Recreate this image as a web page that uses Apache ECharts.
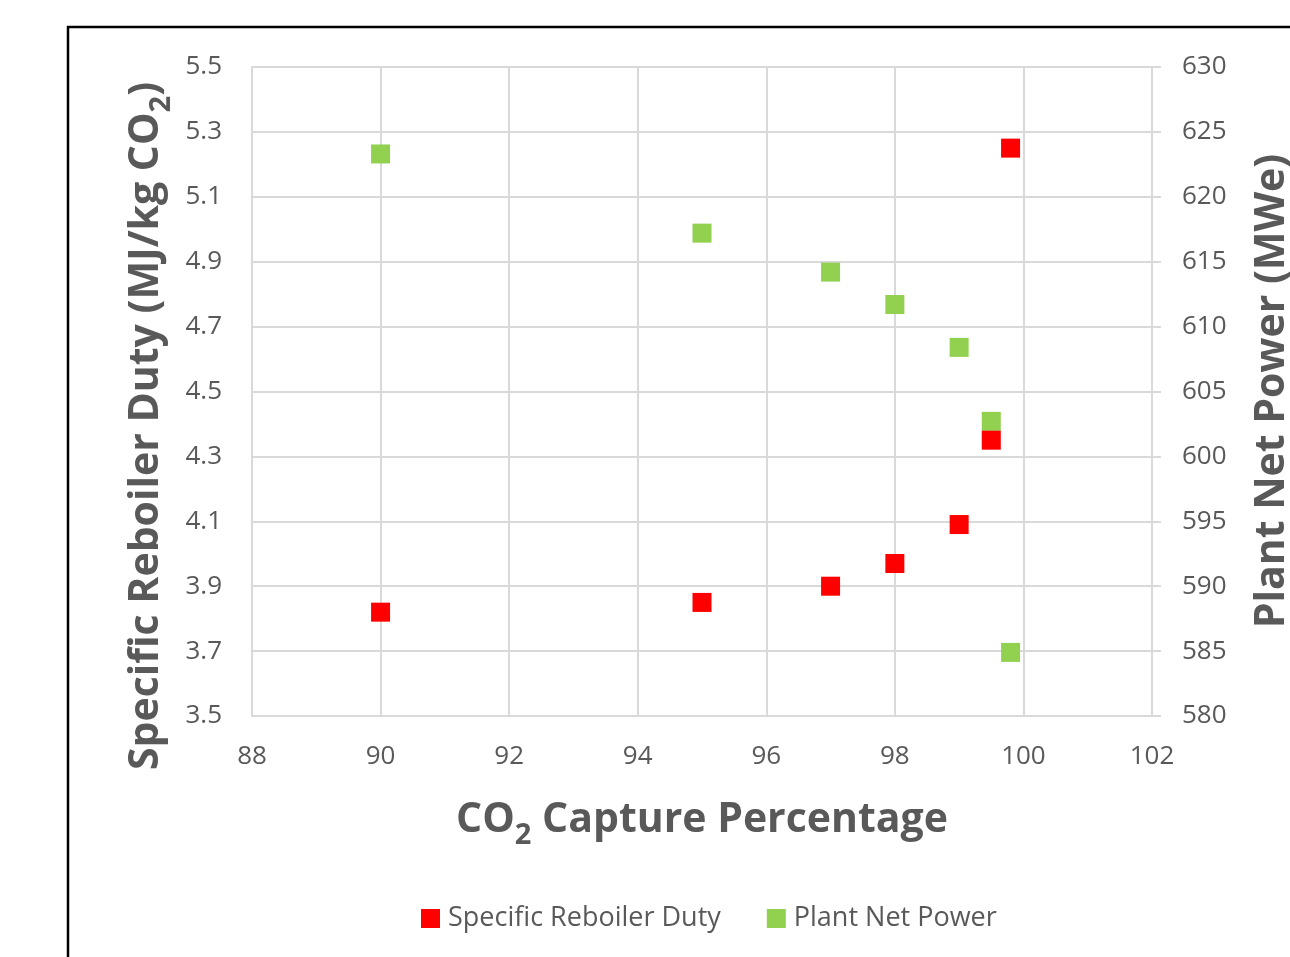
<!DOCTYPE html>
<html>
<head>
<meta charset="utf-8">
<script src="https://cdn.jsdelivr.net/npm/echarts@6/dist/echarts.min.js"></script>
<style>
  html, body { margin: 0; padding: 0; background: #ffffff; }
  #main { width: 1290px; height: 957px; }
</style>
</head>
<body>
<div id="main"></div>
<script>
  // capture percentage (x) shared by both series
  var capture = [90, 95, 97, 98, 99, 99.5, 99.8];
  // specific reboiler duty, MJ/kg CO2 (left axis)
  var reboilerDuty = [3.82, 3.85, 3.90, 3.97, 4.09, 4.35, 5.25];
  // plant net power, MWe (right axis)
  var netPower = [623.3, 617.2, 614.2, 611.7, 608.4, 602.7, 584.9];

  var textColor = '#595959';
  var gridColor = '#d9d9d9';
  var font = 'Open Sans';

  function pairs(xs, ys) {
    var out = [];
    for (var i = 0; i < xs.length; i++) out.push([xs[i], ys[i]]);
    return out;
  }

  var titleRich = {
    a: { fontSize: 41, fontWeight: 'bold', color: textColor, fill: textColor, fontFamily: font, lineHeight: 60, verticalAlign: 'middle' },
    s: { fontSize: 29, fontWeight: 'bold', color: textColor, fill: textColor, fontFamily: font, lineHeight: 32, verticalAlign: 'bottom' }
  };

  var myChart = echarts.init(document.getElementById('main'));
  var option = {
    backgroundColor: '#ffffff',
    textStyle: { fontFamily: font },
    grid: { left: 252, right: 138, top: 67, bottom: 241 },
    legend: {
      bottom: 20,
      left: 416,
      itemWidth: 19,
      itemHeight: 19,
      itemGap: 46,
      icon: 'rect',
      textStyle: { fontSize: 27, color: textColor, fontFamily: font, padding: [0, 0, 0, 3] },
      data: ['Specific Reboiler Duty', 'Plant Net Power']
    },
    xAxis: {
      type: 'value',
      min: 88, max: 102, interval: 2,
      name: '{a|CO}{s|2}{a| Capture Percentage}',
      nameLocation: 'middle',
      nameGap: 74,
      nameTextStyle: { rich: titleRich },
      axisLine: { show: true, lineStyle: { color: gridColor, width: 2 } },
      axisTick: { show: false },
      axisLabel: { fontSize: 26, color: textColor, margin: 28 },
      splitLine: { show: true, lineStyle: { color: gridColor, width: 2 } }
    },
    yAxis: [
      {
        type: 'value',
        min: 3.5, max: 5.5, interval: 0.2,
        axisLine: { show: true, lineStyle: { color: gridColor, width: 2 } },
        axisTick: { show: false },
        axisLabel: {
          fontSize: 26, color: textColor, margin: 30,
          formatter: function (v) { return v.toFixed(1); }
        },
        splitLine: { show: true, lineStyle: { color: gridColor, width: 2 } }
      },
      {
        type: 'value',
        position: 'right',
        min: 580, max: 630, interval: 5,
        axisLine: { show: true, lineStyle: { color: gridColor, width: 2 } },
        axisTick: { show: true, inside: false, length: 9, lineStyle: { color: gridColor, width: 2 } },
        axisLabel: { fontSize: 26, color: textColor, margin: 30 },
        splitLine: { show: false }
      }
    ],
    graphic: [
      {
        type: 'rect',
        shape: { x: 68, y: 27, width: 1400, height: 1100 },
        style: { fill: 'none', stroke: '#000000', lineWidth: 2.5 },
        silent: true
      },
      {
        type: 'text',
        x: 146, y: 426,
        rotation: Math.PI / 2,
        style: {
          text: '{a|Specific Reboiler Duty (MJ/kg CO}{s|2}{a|)}',
          align: 'center',
          verticalAlign: 'middle',
          rich: titleRich
        }
      },
      {
        type: 'text',
        x: 1272, y: 391,
        rotation: Math.PI / 2,
        style: {
          text: 'Plant Net Power (MWe)',
          align: 'center',
          verticalAlign: 'middle',
          fontSize: 41, fontWeight: 'bold', fill: textColor, fontFamily: font
        }
      }
    ],
    series: [
      {
        name: 'Plant Net Power',
        type: 'scatter',
        yAxisIndex: 1,
        symbol: 'rect',
        symbolSize: 19,
        itemStyle: { color: '#92d050', opacity: 1 },
        data: pairs(capture, netPower)
      },
      {
        name: 'Specific Reboiler Duty',
        type: 'scatter',
        yAxisIndex: 0,
        symbol: 'rect',
        symbolSize: 19,
        itemStyle: { color: '#ff0000', opacity: 1 },
        data: pairs(capture, reboilerDuty)
      }
    ]
  };
  myChart.setOption(option);
</script>
</body>
</html>
